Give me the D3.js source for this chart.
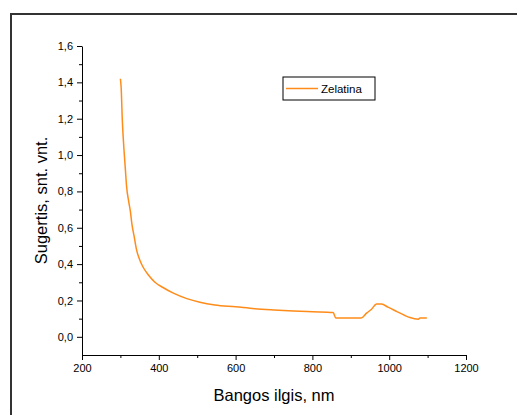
<!DOCTYPE html>
<html>
<head>
<meta charset="utf-8">
<script src="https://cdn.jsdelivr.net/npm/d3@7"></script>
<style>
  body { margin: 0; background: #fff; }
  svg { display: block; }
</style>
</head>
<body>
<div id="chart"></div>
<script>
// Duomenys (nuskaityti nuo paveikslo)
const wavelength = [300, 302, 305, 309, 313, 316, 322, 326, 330, 336, 342, 351, 360, 373, 390, 412, 438, 473, 507, 546,
  600, 650, 700, 750, 800, 854, 861, 900, 927, 941, 954, 967, 980, 997, 1020, 1041, 1054, 1076, 1080, 1098];
const absorbance = [1.42, 1.37, 1.19, 1.04, 0.92, 0.83, 0.74, 0.69, 0.62, 0.55, 0.48, 0.42, 0.38, 0.34, 0.30, 0.27, 0.24, 0.21, 0.19, 0.175,
  0.165, 0.155, 0.148, 0.142, 0.138, 0.134, 0.103, 0.103, 0.103, 0.13, 0.152, 0.181, 0.18, 0.163, 0.139, 0.117, 0.106, 0.097, 0.104, 0.103];
const xTicks = [200, 400, 600, 800, 1000, 1200];
const yTicks = [0, 0.2, 0.4, 0.6, 0.8, 1.0, 1.2, 1.4, 1.6];
const seriesName = "Zelatina";

const W = 517, H = 415;
const margin = { top: 46, right: 51, bottom: 60, left: 82 };
const width = W - margin.left - margin.right;
const height = H - margin.top - margin.bottom;

const svg = d3.select("#chart").append("svg")
    .attr("width", W)
    .attr("height", H);

// Rėmelis
svg.append("path")
    .attr("d", `M11,${H} L11,14 L${W},14`)
    .attr("fill", "none")
    .attr("stroke", "#333")
    .attr("stroke-width", 2);

const g = svg.append("g")
    .attr("transform", `translate(${margin.left}, ${margin.top})`);

const x = d3.scaleLinear().domain([200, 1200]).range([0, width]);
const y = d3.scaleLinear().domain([-0.1, 1.6]).range([height, 0]);

const fmt = d => d3.format(".1f")(d).replace(".", ",");

// Šalutinės žymos
g.append("g")
    .attr("transform", `translate(0, ${height})`)
    .call(d3.axisBottom(x).tickValues(d3.range(300, 1200, 200)).tickSize(3).tickFormat(""))
    .call(a => a.select(".domain").remove());
g.append("g")
    .call(d3.axisLeft(y).tickValues(d3.range(0.1, 1.6, 0.2)).tickSize(3).tickFormat(""))
    .call(a => a.select(".domain").remove());

const xAxis = g.append("g")
    .attr("transform", `translate(0, ${height})`)
    .call(d3.axisBottom(x).tickValues(xTicks).tickSize(5).tickSizeOuter(0).tickPadding(4).tickFormat(d3.format("d")));
const yAxis = g.append("g")
    .call(d3.axisLeft(y).tickValues(yTicks).tickSize(5).tickSizeOuter(0).tickPadding(4).tickFormat(fmt));

g.selectAll(".tick text")
    .attr("font-family", "Liberation Sans, Arial, sans-serif")
    .attr("font-size", 11)
    .attr("fill", "#000");
g.selectAll(".domain, .tick line").attr("stroke", "#000");

// Ašių pavadinimai
svg.append("text")
    .attr("x", margin.left + x(700))
    .attr("y", 401)
    .attr("text-anchor", "middle")
    .attr("font-family", "Liberation Sans, Arial, sans-serif")
    .attr("font-size", 16.5)
    .text("Bangos ilgis, nm");

svg.append("text")
    .attr("transform", `translate(47, ${margin.top + y(0.75)}) rotate(-90)`)
    .attr("text-anchor", "middle")
    .attr("font-family", "Liberation Sans, Arial, sans-serif")
    .attr("font-size", 16.5)
    .text("Sugertis, snt. vnt.");

// Kreivė
const data = wavelength.map((w, i) => ({ w, a: absorbance[i] }));
const line = d3.line().curve(d3.curveMonotoneX).x(d => x(d.w)).y(d => y(d.a));
g.append("path")
    .datum(data)
    .attr("fill", "none")
    .attr("stroke", "#ff8c1a")
    .attr("stroke-width", 1.5)
    .attr("d", line);

// Legenda
const lg = svg.append("g").attr("transform", "translate(283, 77)");
lg.append("rect")
    .attr("width", 92).attr("height", 23)
    .attr("fill", "#fff").attr("stroke", "#000").attr("stroke-width", 1);
lg.append("line")
    .attr("x1", 3).attr("x2", 35).attr("y1", 11.5).attr("y2", 11.5)
    .attr("stroke", "#ff8c1a").attr("stroke-width", 1.5);
lg.append("text")
    .attr("x", 38).attr("y", 15.5)
    .attr("font-family", "Liberation Sans, Arial, sans-serif")
    .attr("font-size", 11.5)
    .text(seriesName);
</script>
</body>
</html>
